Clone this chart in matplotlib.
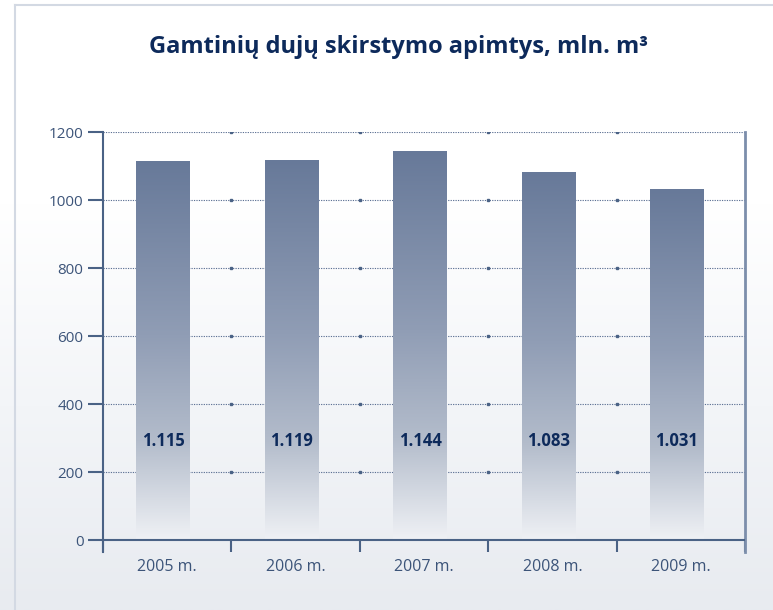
import numpy as np
import matplotlib.pyplot as plt
from matplotlib.colors import LinearSegmentedColormap

# data
years = ['2005 m.', '2006 m.', '2007 m.', '2008 m.', '2009 m.']
volumes = [1115, 1119, 1144, 1083, 1031]
value_labels = ['1.115', '1.119', '1.144', '1.083', '1.031']
y_ticks = [0, 200, 400, 600, 800, 1000, 1200]

plt.rcParams['font.family'] = ['Open Sans', 'DejaVu Sans']

navy = '#0d2a5b'
axis_col = '#4a6285'
tick_col = '#3c5479'

fig = plt.figure(figsize=(7.73, 6.10), dpi=100)

# background gradient for the whole panel
bg = fig.add_axes([0, 0, 1, 1], zorder=0)
bg_cmap = LinearSegmentedColormap.from_list('bg', ['#ffffff', '#ffffff', '#f3f5f8', '#e8ebf0'])
bg.imshow(np.linspace(0, 1, 256).reshape(-1, 1), aspect='auto', cmap=bg_cmap,
          extent=[0, 1, 0, 1], origin='upper')
bg.plot([15 / 773, 15 / 773], [0, 1 - 5 / 610], color='#d3d9e3', lw=1.5)
bg.plot([15 / 773, 1], [1 - 5 / 610, 1 - 5 / 610], color='#d3d9e3', lw=1.5)
bg.set_xlim(0, 1)
bg.set_ylim(0, 1)
bg.axis('off')

ax = fig.add_axes([103 / 773, 1 - 552 / 610, (745 - 103) / 773, (552 - 132) / 610], zorder=1)
ax.patch.set_alpha(0)

x = np.arange(len(years))
bars = ax.bar(x - 0.03, volumes, width=0.42, color='none', edgecolor='none', zorder=3)

bar_cmap = LinearSegmentedColormap.from_list(
    'bar', [(0, '#eff1f5'), (0.26, '#b3bccb'), (0.54, '#909db5'), (1, '#677999')])
grad = np.linspace(0, 1, 256).reshape(-1, 1)
for b in bars:
    bx = b.get_x()
    im = ax.imshow(grad, aspect='auto', cmap=bar_cmap, origin='lower',
                   extent=[bx, bx + b.get_width(), 0, b.get_height()], zorder=3)
    im.set_clip_path(b)

for xi, lab in zip(x, value_labels):
    ax.text(xi - 0.03, 290, lab, ha='center', va='center', fontsize=12,
            fontweight='bold', color=navy, zorder=5)

ax.set_xlim(-0.5, len(years) - 0.5)
ax.set_ylim(-35, 1200)

# dotted gridlines with small dark marks at the category borders
for yv in y_ticks[1:]:
    ax.axhline(yv, color='#5d7194', lw=0.8, ls=(0, (1.1, 1.1)), zorder=2)
ax.plot(np.arange(0.5, len(years) - 0.5).repeat(len(y_ticks) - 1),
        np.tile(y_ticks[1:], len(years) - 1), ls='none', marker='s', ms=1.6,
        color=axis_col, zorder=2)
ax.axhline(0, color=axis_col, lw=1.5, zorder=4)

ax.set_yticks(y_ticks)
ax.set_yticklabels([str(v) for v in y_ticks])
ax.tick_params(axis='y', direction='out', length=11, width=1.5, color=axis_col,
               labelcolor=tick_col, labelsize=11, pad=3)

ax.set_xticks(x)
ax.set_xticklabels(years)
ax.set_xticks(np.arange(-0.5, len(years)), minor=True)
ax.tick_params(axis='x', which='major', length=0, labelcolor=tick_col, labelsize=11.5, pad=5)
ax.tick_params(axis='x', which='minor', direction='in', length=9, width=1.5, color=axis_col)

ax.spines['top'].set_visible(False)
ax.spines['bottom'].set_visible(False)
ax.spines['left'].set_color(axis_col)
ax.spines['left'].set_linewidth(1.5)
ax.spines['right'].set_color('#7c8eab')
ax.spines['right'].set_linewidth(2)

fig.text(399 / 773, 1 - 47 / 610, 'Gamtinių dujų skirstymo apimtys, mln. m³',
         ha='center', va='center', fontsize=17, fontweight='bold', color=navy)

fig.savefig('out.png', dpi=100)
